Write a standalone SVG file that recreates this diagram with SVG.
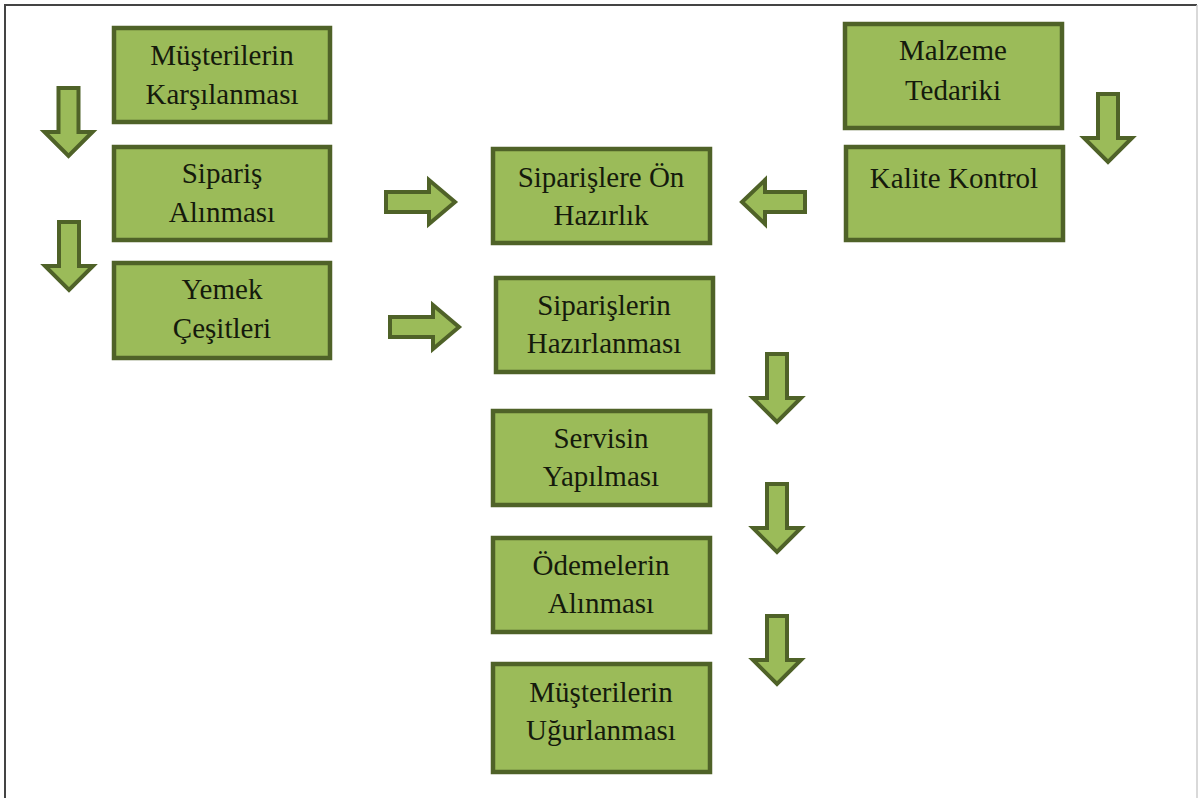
<svg xmlns="http://www.w3.org/2000/svg" width="1200" height="798" viewBox="0 0 1200 798">
<style>
.box{fill:#9bbb59;stroke:#4f6228;stroke-width:4.5}
.arr{fill:#9bbb59;stroke:#4f6228;stroke-width:4;stroke-linejoin:miter}
text{font-family:"Liberation Serif","Times New Roman",serif;font-size:29px;fill:#151a0c;text-anchor:middle}
</style>
<defs>
<path id="down" class="arr" d="M-10,0 H10 V44 H24 L0,68 L-24,44 H-10 Z"/>
<path id="right" class="arr" d="M0,-10 H43 V-22 L69,0 L43,22 V10 H0 Z"/>
<path id="left" class="arr" d="M0,-10 H-40 V-22 L-63,0 L-40,22 V10 H0 Z"/>
</defs>
<rect x="0" y="0" width="1200" height="798" fill="#ffffff"/>
<path d="M5,798 V5 H1197" fill="none" stroke="#444" stroke-width="2"/>
<path d="M1197,5 V798" fill="none" stroke="#ccc" stroke-width="1.5"/>

<g id="n1"><rect class="box" x="114" y="28" width="216" height="94"/><text x="222" y="65">Müşterilerin</text><text x="222" y="104">Karşılanması</text></g>
<g id="n2"><rect class="box" x="114" y="147" width="216" height="93"/><text x="222" y="183">Sipariş</text><text x="222" y="222">Alınması</text></g>
<g id="n3"><rect class="box" x="114" y="263" width="216" height="95"/><text x="222" y="299">Yemek</text><text x="222" y="338">Çeşitleri</text></g>
<g id="n4"><rect class="box" x="493" y="149" width="217" height="94"/><text x="601" y="187">Siparişlere Ön</text><text x="601" y="225">Hazırlık</text></g>
<g id="n5"><rect class="box" x="496" y="278" width="217" height="94"/><text x="604" y="315">Siparişlerin</text><text x="604" y="353">Hazırlanması</text></g>
<g id="n6"><rect class="box" x="493" y="411" width="217" height="94"/><text x="601" y="448">Servisin</text><text x="601" y="486">Yapılması</text></g>
<g id="n7"><rect class="box" x="493" y="538" width="217" height="94"/><text x="601" y="575">Ödemelerin</text><text x="601" y="613">Alınması</text></g>
<g id="n8"><rect class="box" x="493" y="664" width="217" height="108"/><text x="601" y="702">Müşterilerin</text><text x="601" y="740">Uğurlanması</text></g>
<g id="n9"><rect class="box" x="845" y="24" width="217" height="104"/><text x="953" y="60">Malzeme</text><text x="953" y="100">Tedariki</text></g>
<g id="n10"><rect class="box" x="846" y="147" width="217" height="93"/><text x="954" y="188">Kalite Kontrol</text></g>

<g id="connectors">
<use href="#down" x="68.5" y="88"/>
<use href="#down" x="69" y="222"/>
<use href="#down" x="1108" y="94"/>
<use href="#down" x="777" y="354"/>
<use href="#down" x="777" y="484"/>
<use href="#down" x="777" y="616"/>
<use href="#right" x="386" y="202"/>
<use href="#right" x="390" y="327"/>
<use href="#left" x="805" y="202"/>
</g>
</svg>
